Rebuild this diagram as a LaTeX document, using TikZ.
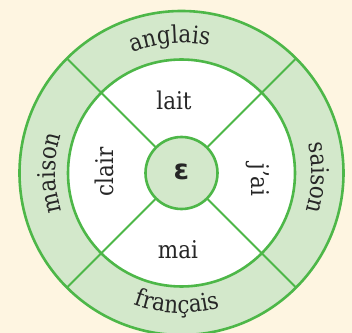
\documentclass[tikz,border=0pt]{standalone}
\usepackage{fontspec}
\setmainfont[FakeStretch=0.88]{DejaVu Serif}
\newfontfamily\epsfont{DejaVu Sans}
\usetikzlibrary{decorations.text}
\definecolor{bgc}{RGB}{254,245,225}
\definecolor{grc}{RGB}{77,183,72}
\definecolor{lgc}{RGB}{211,232,203}
\newcommand\ringfont{\fontsize{24.5}{28}\selectfont}
\tikzset{
  ringline/.style={draw=grc, line width=2.6bp},
  spoke/.style={draw=grc, line width=2bp},
  word/.style={font=\ringfont, inner sep=0pt, text=black!85},
  arcword/.style={decorate, decoration={text along path, text align=center, text={|\ringfont\color{black!85}|#1}}}
}
\begin{document}
\begin{tikzpicture}[x=1bp,y=1bp]
\useasboundingbox (0,0) rectangle (352,333);
\fill[bgc] (0,0) rectangle (352,333);
\coordinate (c) at (181.5,160);
\fill[lgc] (c) circle[radius=162];
\fill[white] (c) circle[radius=113.5];
\foreach \a in {45,135,225,315}
  \draw[spoke] ([shift={(\a:36)}]c) -- ([shift={(\a:162)}]c);
\draw[ringline] (c) circle[radius=162];
\draw[ringline] (c) circle[radius=113.5];
\node[circle, minimum size=72bp, inner sep=0pt, fill=lgc, ringline] (mid) at (c) {};
\node[font=\epsfont\bfseries\fontsize{28}{28}\selectfont, text=black!85] (eps) at ([yshift=1]c) {ɛ};
% inner words
\node[word] (lait) at (174,233) {lait};
\node[word] (mai) at (178,83) {mai};
\node[word, rotate=90] (clair) at (104,161) {clair};
\node[word, rotate=-90] (jai) at (258,153) {j’ai};
% outer words on arcs
\path[arcword=anglais] ([shift={(135:130)}]c) arc[start angle=135, end angle=55, radius=130];
\path[arcword=français] ([shift={(228:140)}]c) arc[start angle=228, end angle=308, radius=140];
\path[arcword=maison] ([shift={(220:126)}]c) arc[start angle=220, end angle=140, radius=126];
\path[arcword=saison] ([shift={(38:130)}]c) arc[start angle=38, end angle=-42, radius=130];
\end{tikzpicture}
\end{document}
